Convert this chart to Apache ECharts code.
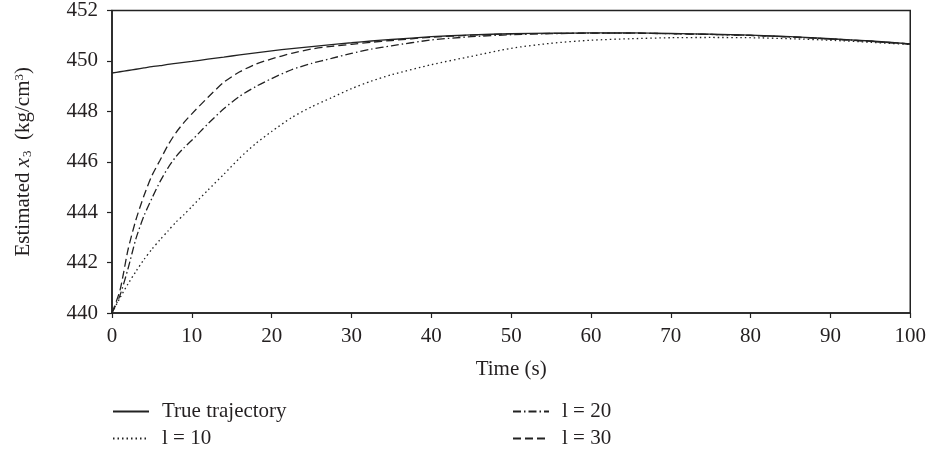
<!DOCTYPE html>
<html><head><meta charset="utf-8">
<script src="https://cdn.jsdelivr.net/npm/echarts@6/dist/echarts.min.js"></script>
<style>html,body{margin:0;padding:0;background:#fff}#c{width:929px;height:453px}</style>
</head><body><div id="c"></div>
<script>
const times    = [0, 1, 2, 3, 4, 5, 6, 7, 8, 9, 10, 12, 14, 16, 18, 20, 22.5, 25, 27.5, 30, 32.5, 35, 40, 45, 50, 55, 60, 65, 70, 75, 80, 85, 90, 95, 100];
const trueTraj = [449.52, 449.57, 449.62, 449.67, 449.72, 449.77, 449.81, 449.86, 449.9, 449.94, 449.98, 450.07, 450.15, 450.24, 450.32, 450.4, 450.49, 450.57, 450.65, 450.72, 450.79, 450.85, 450.96, 451.03, 451.08, 451.1, 451.11, 451.11, 451.09, 451.06, 451.02, 450.96, 450.88, 450.79, 450.68];
const l10      = [440.0, 440.6, 441.15, 441.65, 442.12, 442.53, 442.9, 443.25, 443.6, 443.9, 444.22, 444.87, 445.5, 446.15, 446.72, 447.2, 447.75, 448.18, 448.54, 448.9, 449.2, 449.45, 449.85, 450.18, 450.5, 450.7, 450.82, 450.88, 450.92, 450.93, 450.92, 450.88, 450.82, 450.74, 450.65];
const l20      = [440.0, 440.7, 441.75, 442.95, 443.85, 444.55, 445.2, 445.75, 446.2, 446.55, 446.85, 447.5, 448.1, 448.6, 448.98, 449.3, 449.65, 449.9, 450.1, 450.3, 450.47, 450.6, 450.83, 450.96, 451.04, 451.08, 451.1, 451.1, 451.08, 451.05, 451.01, 450.95, 450.87, 450.78, 450.67];
const l30      = [440.0, 440.9, 442.5, 443.7, 444.65, 445.45, 446.05, 446.65, 447.15, 447.55, 447.9, 448.55, 449.15, 449.57, 449.87, 450.08, 450.3, 450.47, 450.58, 450.66, 450.74, 450.81, 450.94, 451.02, 451.07, 451.09, 451.1, 451.1, 451.08, 451.05, 451.01, 450.95, 450.87, 450.78, 450.67];
const seriesNames = ['True trajectory', 'l = 10', 'l = 20', 'l = 30'];

const FONT = 'Liberation Serif';
const TXT = '#231f20';
const FS = 21;
const zip = v => times.map((t, i) => [t, v[i]]);
function mk(name, vals, dash) {
  return {
    name, type: 'line', data: zip(vals), showSymbol: false, symbol: 'none',
    smooth: 0.25,
    lineStyle: { color: '#222', width: 1.3, type: dash },
    itemStyle: { color: '#222' }
  };
}
const legendCommon = {
  orient: 'vertical', top: 401, padding: 0, itemWidth: 36, itemHeight: 12, itemGap: 6,
  itemStyle: { opacity: 0 },
  textStyle: { fontFamily: FONT, fontSize: FS, color: TXT, padding: [0, 0, 0, 8] }
};
const chart = echarts.init(document.getElementById('c'), null, { renderer: 'canvas' });
chart.setOption({
  animation: false,
  backgroundColor: '#fff',
  textStyle: { fontFamily: FONT, color: TXT },
  grid: { left: 112, right: 18, top: 8, bottom: 140, show: true, borderColor: '#222', borderWidth: 1.5, backgroundColor: 'transparent' },
  legend: [
    Object.assign({ left: 112, data: [seriesNames[0], seriesNames[1]] }, legendCommon),
    Object.assign({ left: 512, data: [seriesNames[2], seriesNames[3]] }, legendCommon)
  ],
  xAxis: {
    type: 'value', min: 0, max: 100, interval: 10,
    name: 'Time (s)', nameLocation: 'middle', nameGap: 46,
    nameTextStyle: { fontFamily: FONT, fontSize: FS, color: TXT },
    axisLine: { lineStyle: { color: '#222', width: 1.5 } },
    axisTick: { show: true, inside: false, length: 5, lineStyle: { color: '#222', width: 1.2 } },
    axisLabel: { fontFamily: FONT, fontSize: FS, color: TXT, margin: 13 },
    splitLine: { show: false }
  },
  yAxis: {
    type: 'value', min: 440, max: 452, interval: 2,
    name: '{n|Estimated }{i|x}{s|3}{n|  (kg/cm}{p|3}{n|)}', nameLocation: 'middle', nameGap: 78,
    nameTextStyle: {
      fontFamily: FONT, fontSize: FS, color: TXT,
      rich: {
        n: { fontFamily: FONT, fontSize: FS, color: TXT },
        i: { fontFamily: FONT, fontSize: FS, color: TXT, fontStyle: 'italic' },
        s: { fontFamily: FONT, fontSize: 13, color: TXT, verticalAlign: 'bottom', padding: [8, 0, 0, 1] },
        p: { fontFamily: FONT, fontSize: 13, color: TXT, verticalAlign: 'top', padding: [0, 0, 8, 0] }
      }
    },
    axisLine: { show: true, lineStyle: { color: '#222', width: 1.5 } },
    axisTick: { show: true, inside: false, length: 5, lineStyle: { color: '#222', width: 1.2 } },
    axisLabel: { fontFamily: FONT, fontSize: FS, color: TXT, margin: 14 },
    splitLine: { show: false }
  },
  series: [
    mk(seriesNames[0], trueTraj, 'solid'),
    mk(seriesNames[1], l10, [1.5, 3]),
    mk(seriesNames[2], l20, [8, 3, 1.5, 3]),
    mk(seriesNames[3], l30, [8, 4])
  ]
});
</script></body></html>
